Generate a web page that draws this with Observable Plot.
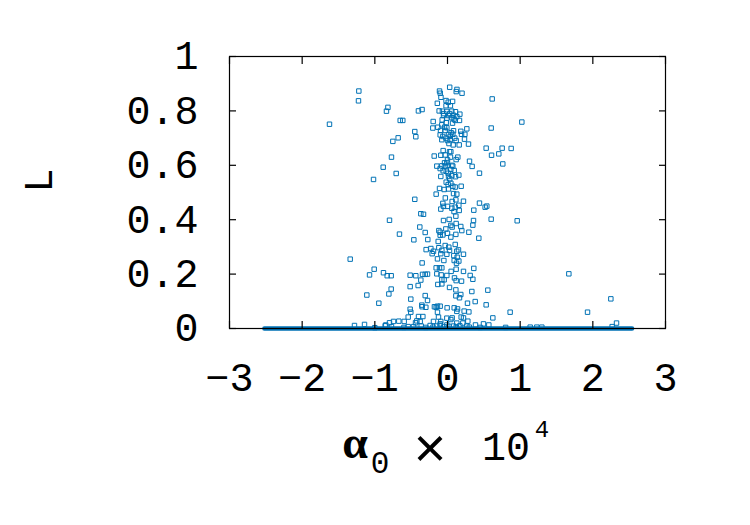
<!DOCTYPE html>
<html>
<head>
<meta charset="utf-8">
<script src="https://cdn.jsdelivr.net/npm/d3@7"></script>
<script src="https://cdn.jsdelivr.net/npm/@observablehq/plot@0.6"></script>
<style>
  html, body { margin: 0; padding: 0; background: #ffffff; }
  #chart { width: 750px; height: 525px; }
</style>
</head>
<body>
<div id="chart"></div>
<script>
// ---- data ----
const xTicks = [-3, -2, -1, 0, 1, 2, 3];
const xTickLabels = ["\u22123", "\u22122", "\u22121", "0", "1", "2", "3"];
const yTicks = [0, 0.2, 0.4, 0.6, 0.8, 1];
const yTickLabels = ["0", "0.2", "0.4", "0.6", "0.8", "1"];
const yLabel = "L";
const xLabelParts = ["\u03b1", "0", "\u00d7", "10", "4"];

// dense row of points at L = 0 (drawn as a thick segment)
const zeroRowAlpha = [-2.52, 2.54];
const zeroRowL = [0, 0];

// scattered points: alpha0 x 10^4 and L
const alpha0 = [
 0.03, 0.13, 0.12, -0.11, -0.10, 0.20, -0.09, -1.22, -1.225, 0.615,
 -0.14, -0.02, 0.07, 0.01, -0.02, 0.04, -0.82, -0.84, -0.40, -0.35,
 -0.115, -0.07, -0.01, 0.06, 0.11, 0.17, -0.055, 0.014, 0.083, 0.128,
 -0.009, 0.06, 0.106, 0.165, -0.073, -0.197, -0.018, 0.069, -1.624, -0.651,
 -0.615, 1.023, -0.078, -0.202, -0.133, -0.009, 0.266, 0.601, -0.096, -0.032,
 0.083, 0.183, -0.45, -0.101, 0.014, 0.073, 0.193, 0.239, -0.064, 0.037,
 -0.436, -0.679, -0.078, 0.037, 0.119, 0.234, -0.752, 0.0, 0.078, 0.161,
 0.289, 0.532, 0.752, 0.876, -0.06, 0.028, 0.046, 0.706, 0.606, -0.183,
 -0.092, -0.032, 0.142, 0.119, 0.041, 0.303, -0.009, -0.041, -0.771, 0.761,
 -0.885, -0.147, -0.078, -0.028, 0.009, 0.073, 0.339, -0.101, 0.046, -0.018,
 0.009, 0.092, -0.706, 0.44, -0.092, 0.014, 0.06, 0.11, 0.156, -1.018,
 -0.018, 0.046, 0.009, 0.073, 0.188, -0.11, -0.046, 0.014, 0.106, -0.156,
 0.083, 0.128, -0.45, 0.115, 0.22, 0.44, -0.064, 0.064, 0.156, -0.055,
 0.0, 0.106, 0.518, 0.541, -0.092, 0.06, 0.161, 0.362, -0.367, -0.33,
 0.115, -0.798, -0.055, 0.023, 0.358, 0.601, 0.959, 0.046, 0.064, 0.119,
 0.183, 0.349, -0.381, -0.119, -0.101, -0.023, 0.197, 0.294, -0.307, -0.661,
 -0.101, -0.064, 0.115, 0.046, 0.431, -0.463, -0.271, -0.128, -0.032, 0.106,
 0.018, -0.294, -0.229, -0.193, -0.119, -0.078, 0.028, 0.128, 0.151, 0.22,
 -0.009, -0.211, -0.092, 0.087, 0.133, -1.339, -0.138, -0.349, 0.092, 0.156,
 0.124, -0.156, -0.11, -0.078, 0.119, 0.362, 0.22, -1.009, -0.881, -1.073,
 -0.83, -0.775, -0.514, -0.436, -0.344, -0.307, -0.275, -0.147, -0.087, -0.009,
 0.312, -0.078, -0.046, 0.096, 0.119, 0.193, 0.349, 1.67, -0.367, -0.133,
 -0.078, 0.028, 0.115, 0.183, 0.115, 0.335, 0.555, -0.775, -0.807, -0.404,
 -0.514, -1.11, -0.307, 0.165, -0.505, -0.275, -0.945, 0.381, 0.275, 0.532,
 -0.353, -0.349, -0.298, -0.156, -0.138, -0.101, -0.005, 0.092, 0.138, 2.248,
 -0.514, -0.505, -0.138, 0.128, 0.229, 0.294, 0.862, 1.927, -0.399, -0.339,
 -0.541, -0.124, -0.009, 0.064, 0.188, 0.22, 0.624, -0.422, -0.376, -0.44,
 -0.193, -0.092, 0.046, 0.28, -0.67, -0.743, -0.596, -0.798, -0.849, -0.101,
 0.128, 0.211, 2.326, -1.28, -1.142, -0.858, -0.771, -0.541, -0.468, -0.362,
 -0.239, -0.147, -0.009, 0.083, 0.266, 0.385, 0.495, 0.569, 1.138, 1.229,
 1.298, 2.266,
 -0.05, 0.03, 0.09, -0.04, 0.05, 0.10, -0.02, 0.02, 0.00, 0.06,
 -0.06, 0.03, -0.03, 0.09, 0.00, -0.05, 0.05, -0.18, -0.10, -0.05,
 0.02, 0.12, 0.17, -0.20, -0.30, 0.30, 0.45, -0.60, -1.00, 0.80
];
const lValue = [
 0.887, 0.879, 0.871, 0.873, 0.865, 0.865, 0.85, 0.873, 0.837, 0.844,
 0.828, 0.838, 0.835, 0.832, 0.819, 0.819, 0.813, 0.799, 0.8, 0.805,
 0.8, 0.799, 0.798, 0.799, 0.797, 0.788, 0.783, 0.783, 0.784, 0.779,
 0.773, 0.775, 0.765, 0.765, 0.767, 0.761, 0.757, 0.755, 0.751, 0.765,
 0.765, 0.759, 0.749, 0.737, 0.74, 0.738, 0.734, 0.737, 0.728, 0.728,
 0.727, 0.725, 0.724, 0.712, 0.713, 0.714, 0.714, 0.714, 0.706, 0.707,
 0.705, 0.701, 0.694, 0.694, 0.691, 0.696, 0.688, 0.691, 0.675, 0.675,
 0.678, 0.663, 0.663, 0.662, 0.654, 0.65, 0.65, 0.642, 0.637, 0.634,
 0.637, 0.638, 0.63, 0.621, 0.63, 0.615, 0.61, 0.609, 0.63, 0.605,
 0.593, 0.597, 0.598, 0.597, 0.599, 0.597, 0.596, 0.588, 0.585, 0.578,
 0.571, 0.581, 0.57, 0.571, 0.559, 0.559, 0.562, 0.558, 0.564, 0.548,
 0.538, 0.534, 0.529, 0.523, 0.523, 0.515, 0.511, 0.513, 0.52, 0.494,
 0.496, 0.494, 0.475, 0.473, 0.468, 0.461, 0.46, 0.467, 0.453, 0.449,
 0.449, 0.446, 0.446, 0.45, 0.439, 0.442, 0.434, 0.435, 0.422, 0.42,
 0.413, 0.398, 0.397, 0.401, 0.397, 0.402, 0.396, 0.379, 0.373, 0.386,
 0.375, 0.38, 0.373, 0.36, 0.354, 0.366, 0.36, 0.354, 0.353, 0.347,
 0.343, 0.344, 0.346, 0.336, 0.332, 0.326, 0.327, 0.32, 0.305, 0.309,
 0.299, 0.29, 0.294, 0.284, 0.297, 0.287, 0.287, 0.284, 0.289, 0.273,
 0.273, 0.275, 0.275, 0.268, 0.262, 0.255, 0.256, 0.241, 0.25, 0.248,
 0.24, 0.223, 0.223, 0.223, 0.218, 0.221, 0.21, 0.218, 0.205, 0.197,
 0.194, 0.194, 0.196, 0.194, 0.199, 0.199, 0.2, 0.201, 0.197, 0.195,
 0.195, 0.179, 0.179, 0.186, 0.176, 0.174, 0.181, 0.201, 0.178, 0.162,
 0.164, 0.151, 0.142, 0.125, 0.12, 0.136, 0.141, 0.145, 0.127, 0.158,
 0.154, 0.123, 0.121, 0.113, 0.108, 0.103, 0.093, 0.099, 0.093, 0.087,
 0.086, 0.08, 0.078, 0.078, 0.082, 0.082, 0.076, 0.076, 0.072, 0.109,
 0.071, 0.06, 0.06, 0.063, 0.064, 0.061, 0.06, 0.06, 0.044, 0.044,
 0.042, 0.042, 0.038, 0.039, 0.042, 0.039, 0.039, 0.028, 0.026, 0.021,
 0.026, 0.026, 0.033, 0.027, 0.027, 0.026, 0.026, 0.021, 0.013, 0.017,
 0.02, 0.02, 0.02, 0.011, 0.015, 0.01, 0.007, 0.007, 0.007, 0.009,
 0.011, 0.009, 0.013, 0.009, 0.009, 0.013, 0.017, 0.013, 0.005, 0.005,
 0.005, 0.007,
 0.79, 0.79, 0.77, 0.74, 0.72, 0.70, 0.70, 0.68, 0.62, 0.60,
 0.58, 0.55, 0.48, 0.43, 0.35, 0.25, 0.21, 0.08, 0.012, 0.006,
 0.008, 0.006, 0.01, 0.005, 0.004, 0.005, 0.004, 0.004, 0.003, 0.004
];

const points = alpha0.map((a, i) => ({a, L: lValue[i]}));
const zeroRow = zeroRowAlpha.map((a, i) => ({a, L: zeroRowL[i]}));

const blue = "#0072b5";
const tickFont = "'Liberation Mono', 'DejaVu Sans Mono', monospace";
const tickSize = 40;

const chart = Plot.plot({
  width: 750,
  height: 525,
  marginLeft: 229,
  marginRight: 85,
  marginTop: 56,
  marginBottom: 197,
  style: {background: "#ffffff", color: "#000000"},
  x: {domain: [-3, 3]},
  y: {domain: [0, 1]},
  marks: [
    Plot.dot(points, {x: "a", y: "L", symbol: "square", r: 2.5, stroke: blue, strokeWidth: 1, fill: "none"}),
    Plot.line(zeroRow, {x: "a", y: "L", stroke: blue, strokeWidth: 4.5}),
    Plot.frame({stroke: "#000000", strokeWidth: 1.2}),
    // inward ticks on all four sides
    Plot.axisX(xTicks, {anchor: "bottom", tickSize: -7, tickFormat: () => "", label: null, strokeWidth: 1.2}),
    Plot.axisX(xTicks, {anchor: "top", tickSize: -7, tickFormat: () => "", label: null, strokeWidth: 1.2}),
    Plot.axisY(yTicks, {anchor: "left", tickSize: -7, tickFormat: () => "", label: null, strokeWidth: 1.2}),
    Plot.axisY(yTicks, {anchor: "right", tickSize: -7, tickFormat: () => "", label: null, strokeWidth: 1.2}),
    // tick labels
    Plot.axisX(xTicks, {anchor: "bottom", tickSize: 0, tickPadding: 34, label: null,
      tickFormat: d => xTickLabels[xTicks.indexOf(d)], fontSize: tickSize, fontFamily: tickFont, fill: "#000000"}),
    Plot.axisY(yTicks, {anchor: "left", tickSize: 0, tickPadding: 31, label: null,
      tickFormat: d => yTickLabels[yTicks.indexOf(d)], fontSize: tickSize, fontFamily: tickFont, fill: "#000000"}),
    // y label
    Plot.text([yLabel], {frameAnchor: "left", dx: -190, rotate: -90, fontSize: tickSize, fontFamily: tickFont, fill: "#000000"})
  ]
});

document.getElementById("chart").appendChild(chart);

// x label: alpha_0 x 10^4 (real text with sub/superscripts)
const svg = d3.select(chart);
const xl = svg.append("g").attr("fill", "#000000");
xl.append("text").attr("x", 355).attr("y", 458).attr("text-anchor", "middle")
  .attr("font-family", "'Liberation Serif', 'DejaVu Serif', serif").attr("font-weight", "bold")
  .attr("font-size", 46).text(xLabelParts[0]);
xl.append("text").attr("x", 380).attr("y", 473).attr("text-anchor", "middle")
  .attr("font-family", tickFont).attr("font-size", 31).text(xLabelParts[1]);
xl.append("text").attr("x", 430).attr("y", 467).attr("text-anchor", "middle")
  .attr("font-family", tickFont).attr("font-size", 56).text(xLabelParts[2]);
xl.append("text").attr("x", 506).attr("y", 460).attr("text-anchor", "middle")
  .attr("font-family", tickFont).attr("font-size", tickSize).text(xLabelParts[3]);
xl.append("text").attr("x", 542).attr("y", 437).attr("text-anchor", "middle")
  .attr("font-family", tickFont).attr("font-size", 24).text(xLabelParts[4]);
</script>
</body>
</html>
